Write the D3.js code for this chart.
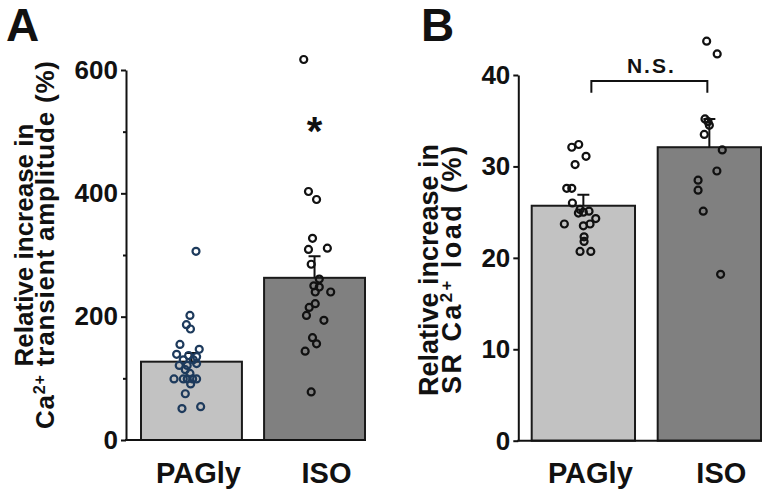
<!DOCTYPE html>
<html>
<head>
<meta charset="utf-8">
<script src="https://cdn.jsdelivr.net/npm/d3@7"></script>
<style>
  body { margin: 0; background: #fff; }
  text { font-family: "Liberation Sans", Arial, sans-serif; font-weight: bold; fill: #111; }
</style>
</head>
<body>
<svg id="chart" width="763" height="495"></svg>
<script>
const categories = ['PAGly', 'ISO'];

// Panel A - relative increase in Ca2+ transient amplitude (%)
const ampTicks = [0, 200, 400, 600];
const ampMinorTicks = [100, 300, 500];
const ampMean = [127, 263];
const ampSem = [14, 35];
const ampPagly = [306, 202, 187, 180, 155, 147, 139, 137, 135, 130, 130, 121, 121, 124,
  114, 108, 99, 99, 99, 99, 99, 91, 75, 51, 54];
// horizontal jitter, as a fraction of bar width
const ampPaglyJitter = [0.045, -0.015, -0.05, -0.01, -0.114, 0.077, -0.147, -0.028, 0.051,
  -0.081, 0.018, -0.121, -0.042, 0.051, -0.061, -0.015, -0.173, -0.081, -0.042, 0.012,
  0.051, -0.008, -0.061, -0.094, 0.091];
const ampIso = [617, 403, 390, 327, 309, 311, 285, 261, 250, 248, 240, 240, 221, 215, 202,
  194, 166, 156, 144, 78];
const ampIsoJitter = [-0.107, -0.06, 0.02, -0.02, -0.06, 0.127, -0.033, 0.047, -0.007, 0.047,
  0.16, 0.007, 0.007, -0.053, -0.08, 0.093, -0.02, 0.02, -0.093, -0.033];
const ampStar = 515;

// Panel B - relative increase in SR Ca2+ load (%)
const loadTicks = [0, 10, 20, 30, 40];
const loadMean = [25.7, 32.1];
const loadSem = [1.2, 3.1];
const loadPagly = [32.1, 32.4, 31.1, 30.2, 27.6, 27.6, 26.0, 24.9, 25.0, 25.1, 25.3, 24.3,
  23.7, 23.5, 23.7, 22.3, 21.8, 20.7, 20.7];
const loadPaglyJitter = [-0.112, -0.045, 0.026, -0.08, -0.161, -0.112, -0.106, -0.048, 0,
  0.055, -0.032, 0.12, -0.184, 0, 0.065, 0.007, 0.007, -0.032, 0.072];
const loadIso = [43.7, 42.3, 35.2, 34.9, 34.5, 33.5, 31.8, 29.5, 28.5, 27.4, 25.1, 18.2];
const loadIsoJitter = [-0.026, 0.076, -0.042, -0.013, 0, -0.049, 0.125, 0.073, -0.109, -0.109,
  -0.059, 0.109];
const loadBracket = [39.35, 38.05];

const barFill = ['#c2c2c2', '#808080'];
const svg = d3.select('#chart');

function drawPanel(cfg) {
  const y = d3.scaleLinear().domain(cfg.domain).range([cfg.bottom, cfg.top]);
  const x = d3.scaleBand().domain(categories).range([cfg.x0, cfg.x1]).paddingInner(0.18);
  const bw = x.bandwidth();
  const mid = d => x(d) + bw / 2;
  const g = svg.append('g');

  // bars
  g.selectAll('rect.bar')
    .data(categories)
    .join('rect')
    .attr('class', 'bar')
    .attr('x', d => x(d))
    .attr('y', (d, i) => y(cfg.mean[i]))
    .attr('width', bw)
    .attr('height', (d, i) => y(0) - y(cfg.mean[i]))
    .attr('fill', (d, i) => barFill[i])
    .attr('stroke', '#1a1a1a')
    .attr('stroke-width', 2);

  // SEM (upper only)
  categories.forEach((c, i) => {
    const top = y(cfg.mean[i] + cfg.sem[i]);
    g.append('path')
      .attr('d', `M${mid(c)},${y(cfg.mean[i])}V${top}M${mid(c) - 6},${top}H${mid(c) + 6}`)
      .attr('stroke', '#111')
      .attr('stroke-width', 2)
      .attr('fill', 'none');
  });

  // individual cells
  cfg.points.forEach((vals, i) => {
    g.append('g')
      .selectAll('circle')
      .data(vals)
      .join('circle')
      .attr('cx', (d, j) => mid(categories[i]) + cfg.jitter[i][j] * bw)
      .attr('cy', d => y(d))
      .attr('r', 3.5)
      .attr('fill', 'none')
      .attr('stroke', cfg.pointColor[i])
      .attr('stroke-width', 2.2);
  });

  // y axis
  const ax = g.append('g')
    .attr('transform', `translate(${cfg.axisX},0)`)
    .call(d3.axisLeft(y).tickValues(cfg.ticks).tickSize(5).tickSizeOuter(0).tickPadding(3));
  if (cfg.minor) {
    g.append('g')
      .attr('transform', `translate(${cfg.axisX},0)`)
      .call(d3.axisLeft(y).tickValues(cfg.minor).tickSize(3).tickSizeOuter(0).tickFormat(''))
      .call(s => s.select('.domain').remove())
      .selectAll('line').attr('stroke', '#111').attr('stroke-width', 2);
  }
  ax.selectAll('.domain, line').attr('stroke', '#111').attr('stroke-width', 2);
  ax.selectAll('text').attr('font-size', 26).attr('fill', '#111')
    .style('font-family', '"Liberation Sans", Arial, sans-serif');

  // x baseline
  g.append('line')
    .attr('x1', cfg.axisX - 1).attr('x2', cfg.x1 + 1)
    .attr('y1', y(0)).attr('y2', y(0))
    .attr('stroke', '#111').attr('stroke-width', 2);

  // category labels
  g.selectAll('text.cat')
    .data(categories)
    .join('text')
    .attr('class', 'cat')
    .attr('x', (d, i) => mid(d) + [7, 12][i])
    .attr('y', 483)
    .attr('text-anchor', 'middle')
    .attr('font-size', 29)
    .text(d => d);

  // y title (two lines, rotated)
  g.append('text')
    .attr('transform', `translate(${cfg.titleX[0]},${cfg.titleY}) rotate(-90)`)
    .attr('text-anchor', 'middle')
    .attr('font-size', cfg.titleSize)
    .text('Relative increase in');
  const t2 = g.append('text')
    .attr('transform', `translate(${cfg.titleX[1]},${cfg.titleY}) rotate(-90)`)
    .attr('text-anchor', 'middle')
    .attr('font-size', cfg.titleSize)
    .attr('textLength', cfg.title2Len)
    .attr('lengthAdjust', 'spacing');
  t2.append('tspan').text(cfg.title2[0]);
  t2.append('tspan').attr('font-size', cfg.titleSize * 0.62).attr('dy', -9).text('2+');
  t2.append('tspan').attr('dy', 9).text(cfg.title2[1]);

  // panel letter
  g.append('text')
    .attr('x', cfg.letterX).attr('y', 41)
    .attr('font-size', 46)
    .text(cfg.letter);

  return { x, y, mid, g };
}

// Panel A
const A = drawPanel({
  domain: [0, 600], top: 70, bottom: 440,
  x0: 141, x1: 365, axisX: 126,
  ticks: ampTicks, minor: ampMinorTicks,
  mean: ampMean, sem: ampSem,
  points: [ampPagly, ampIso], jitter: [ampPaglyJitter, ampIsoJitter],
  pointColor: ['#1d3a5c', '#111'],
  titleX: [33, 54], titleY: 245, titleSize: 26, title2Len: 368,
  title2: ['Ca', ' transient amplitude (%)'],
  letter: 'A', letterX: 6
});
A.g.append('text')
  .attr('x', A.mid('ISO'))
  .attr('y', A.y(ampStar) + 23)
  .attr('text-anchor', 'middle')
  .attr('font-size', 40)
  .text('*');

// Panel B
const B = drawPanel({
  domain: [0, 40], top: 75, bottom: 440.7,
  x0: 531.7, x1: 761, axisX: 518.3,
  ticks: loadTicks, minor: null,
  mean: loadMean, sem: loadSem,
  points: [loadPagly, loadIso], jitter: [loadPaglyJitter, loadIsoJitter],
  pointColor: ['#111', '#111'],
  titleX: [438, 461], titleY: 270, titleSize: 27, title2Len: 248,
  title2: ['SR Ca', ' load (%)'],
  letter: 'B', letterX: 421
});
const bx1 = B.mid('PAGly') + 8, bx2 = B.mid('ISO') - 2;
B.g.append('path')
  .attr('d', `M${bx1},${B.y(loadBracket[1])}V${B.y(loadBracket[0])}H${bx2}V${B.y(loadBracket[1])}`)
  .attr('fill', 'none')
  .attr('stroke', '#111')
  .attr('stroke-width', 2);
B.g.append('text')
  .attr('x', (bx1 + bx2) / 2 + 2)
  .attr('y', 73)
  .attr('text-anchor', 'middle')
  .attr('font-size', 21)
  .attr('letter-spacing', 2)
  .text('N.S.');
</script>
</body>
</html>
